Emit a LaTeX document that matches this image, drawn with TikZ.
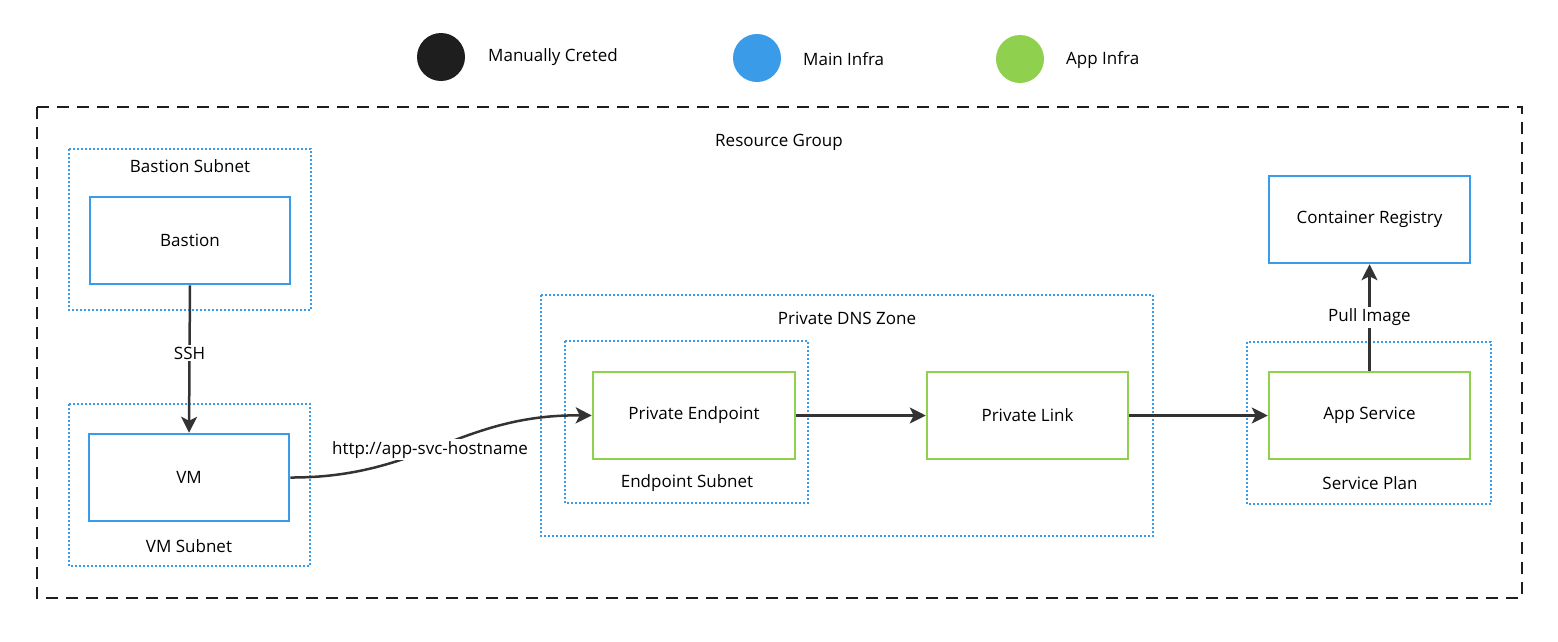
\documentclass[tikz,border=0pt]{standalone}
\usepackage{fontspec}
\setmainfont{Open Sans}
\usetikzlibrary{arrows.meta}
\definecolor{mainblue}{HTML}{3A9BE8}
\definecolor{appgreen}{HTML}{8FD14F}
\definecolor{manblack}{HTML}{1E1E1E}
\definecolor{linegray}{HTML}{333333}
\tikzset{
  every node/.style={font=\fontsize{17}{20}\selectfont, text=black},
  bluebox/.style={draw=mainblue, line width=2.5pt, fill=white, inner sep=0pt},
  greenbox/.style={draw=appgreen, line width=2.5pt, fill=white, inner sep=0pt},
  subnet/.style={draw=mainblue, line width=2pt, dash pattern=on 2pt off 2pt, inner sep=0pt},
  outer/.style={draw=manblack, line width=2pt, dash pattern=on 12pt off 8pt},
  conn/.style={draw=linegray, line width=2.5pt, -{Stealth[length=16pt,width=16pt,inset=4pt]}},
  lbl/.style={fill=white, inner sep=2pt},
  legdot/.style={circle, minimum size=48pt, inner sep=0pt},
  legtext/.style={anchor=west, inner sep=0pt},
}
\begin{document}
\begin{tikzpicture}[x=1pt,y=-1pt]
\useasboundingbox[fill=white] (0,0) rectangle (1558,641);
% legend
\node[legdot, fill=manblack] (l1) at (441,57) {};
\node[legtext] (t1) at (488,57) {Manually Creted};
\node[legdot, fill=mainblue] (l2) at (757,58) {};
\node[legtext] (t2) at (803,59) {Main Infra};
\node[legdot, fill=appgreen] (l3) at (1020,59) {};
\node[legtext] (t3) at (1066,60) {App Infra};
% resource group
\draw[outer] (37,107) rectangle (1522,598);
\node (rg) at (779,142) {Resource Group};
% subnets / zones
\draw[subnet] (69,149) rectangle (311,310);
\node (bsl) at (190,166) {Bastion Subnet};
\draw[subnet] (69,404) rectangle (310,566);
\node (vsl) at (189,546) {VM Subnet};
\draw[subnet] (541,295) rectangle (1153,536);
\node (dnsl) at (847,318) {Private DNS Zone};
\draw[subnet] (565,341) rectangle (808,503);
\node (esl) at (687,483) {Endpoint Subnet};
\draw[subnet] (1247,342) rectangle (1491,504);
\node (spl) at (1370,483) {Service Plan};
% boxes
\node[bluebox, minimum width=200pt, minimum height=87pt] (bastion) at (190,240.5) {Bastion};
\node[bluebox, minimum width=200pt, minimum height=87pt] (vm) at (189,477.5) {VM};
\node[greenbox, minimum width=202pt, minimum height=87pt] (pe) at (694,415.5) {Private Endpoint};
\node[greenbox, minimum width=201pt, minimum height=87pt] (pl) at (1027.5,415.5) {Private Link};
\node[greenbox, minimum width=201pt, minimum height=87pt] (as) at (1369.5,415.5) {App Service};
\node[bluebox, minimum width=201pt, minimum height=87pt] (cr) at (1369.5,219.5) {Container Registry};
% connectors
\draw[conn] (bastion.south) -- node[lbl, pos=0.46] {SSH} (vm.north);
\draw[conn] (vm.east) .. controls (420,478) and (460,414) .. node[lbl, pos=0.46] {http://app-svc-hostname} (pe.west);
\draw[conn] (pe.east) -- (pl.west);
\draw[conn] (pl.east) -- (as.west);
\draw[conn] (as.north) -- node[lbl, pos=0.5] {Pull Image} (cr.south);
\end{tikzpicture}
\end{document}
